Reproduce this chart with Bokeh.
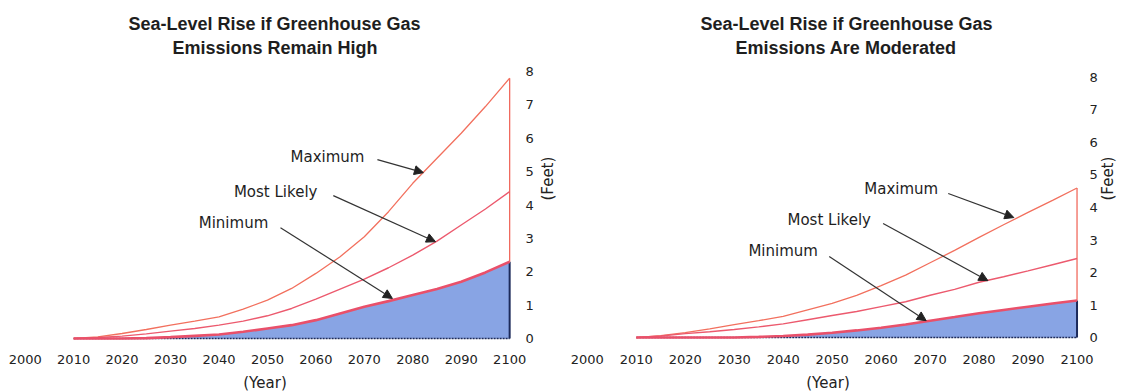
import math
from bokeh.plotting import figure
from bokeh.layouts import row
from bokeh.models import Label, Arrow, NormalHead, FixedTicker, Range1d, Title
from bokeh.embed import file_html
from bokeh.resources import INLINE

# ---- data (feet of sea-level rise) ----
years = [2010, 2015, 2020, 2025, 2030, 2035, 2040, 2045, 2050, 2055,
         2060, 2065, 2070, 2075, 2080, 2085, 2090, 2095, 2100]
high_max = [0, 0.05, 0.15, 0.27, 0.40, 0.52, 0.65, 0.88, 1.15, 1.50,
            1.95, 2.45, 3.05, 3.80, 4.65, 5.40, 6.15, 6.95, 7.80]
high_likely = [0, 0.03, 0.07, 0.14, 0.22, 0.30, 0.40, 0.52, 0.68, 0.90,
               1.18, 1.48, 1.78, 2.12, 2.50, 2.92, 3.40, 3.88, 4.40]
high_min = [0, 0, 0, 0.01, 0.04, 0.08, 0.12, 0.20, 0.30, 0.40,
            0.55, 0.75, 0.95, 1.12, 1.30, 1.48, 1.70, 1.98, 2.30]
mod_max = [0, 0.06, 0.15, 0.27, 0.40, 0.52, 0.65, 0.85, 1.05, 1.30,
           1.60, 1.92, 2.30, 2.68, 3.08, 3.47, 3.85, 4.22, 4.60]
mod_likely = [0, 0.05, 0.12, 0.18, 0.25, 0.33, 0.42, 0.55, 0.68, 0.80,
              0.95, 1.10, 1.30, 1.48, 1.70, 1.87, 2.05, 2.24, 2.43]
mod_min = [0, 0, 0, 0, 0, 0.02, 0.05, 0.09, 0.15, 0.22,
           0.30, 0.40, 0.52, 0.63, 0.75, 0.85, 0.95, 1.05, 1.14]

x_ticks = list(range(2000, 2101, 10))
y_ticks = list(range(0, 9))
series_names = ["Maximum", "Most Likely", "Minimum"]
titles = [["Sea-Level Rise if Greenhouse Gas", "Emissions Remain High"],
          ["Sea-Level Rise if Greenhouse Gas", "Emissions Are Moderated"]]
x_label = "(Year)"
y_label = "(Feet)"

# annotation placement (data units): label centre, arrow start, arrow end
high_notes = [((2062.4, 5.45), (2072.7, 5.36), (2082.2, 4.97)),
              ((2051.7, 4.40), (2063.6, 4.28), (2084.7, 2.90)),
              ((2043.0, 3.47), (2052.7, 3.32), (2075.8, 1.20))]
mod_notes = [((2064.1, 4.58), (2073.7, 4.43), (2087.1, 3.69)),
             ((2049.4, 3.63), (2060.4, 3.51), (2081.8, 1.75)),
             ((2040.0, 2.65), (2049.4, 2.49), (2069.2, 0.52))]

FONT = "DejaVu Sans"


def style_title(t, toff, standoff):
    t.align = "left"
    t.offset = toff
    t.text_font = "Liberation Sans"
    t.text_font_size = "18px"
    t.text_font_style = "bold"
    t.text_color = "#1e1e1e"
    t.text_line_height = 1.0
    t.standoff = standoff


def panel(title, mx, ml, mn, notes, x_end, y_rng, frame_w, bl, br, toffs,
          tick_so, label_so):
    p = figure(frame_width=frame_w, frame_height=280,
               x_range=Range1d(1998, x_end), y_range=Range1d(*y_rng),
               y_axis_location="right", toolbar_location=None,
               output_backend="svg", min_border_left=bl,
               min_border_right=br, min_border_top=60, min_border_bottom=0)
    # outer line is the figure title; the inner line sits closer to the plot
    p.title.text = title[0]
    style_title(p.title, toffs[0], 0)
    t2 = Title(text=title[1])
    style_title(t2, toffs[1], 5)
    p.add_layout(t2, "above")
    p.outline_line_color = None
    p.xgrid.visible = False
    p.ygrid.visible = False
    p.background_fill_color = "white"

    # fill under minimum
    p.varea(x=years, y1=[0] * len(years), y2=mn, fill_color="#88a4e4",
            fill_alpha=1.0)
    p.line(years, [0] * len(years), line_color="#1c2a5a", line_width=1.5,
           line_dash="2 1")
    p.segment(x0=[years[-1]], y0=[0], x1=[years[-1]], y1=[mn[-1]],
              line_color="#1c2a5a", line_width=2)
    p.segment(x0=[years[-1]], y0=[mn[-1]], x1=[years[-1]], y1=[mx[-1]],
              line_color="#f06a5e", line_width=1.3)
    p.line(years, mx, line_color="#f2705e", line_width=1.3)
    p.line(years, ml, line_color="#ec5a6e", line_width=1.4)
    p.line(years, mn, line_color="#e9506a", line_width=2.6)

    for name, (lab, a0, a1) in zip(series_names, notes):
        p.add_layout(Label(x=lab[0], y=lab[1], text=name,
                           text_align="center", text_baseline="middle",
                           text_font=FONT, text_font_size="15px",
                           text_color="#1e1e1e"))
        p.add_layout(Arrow(x_start=a0[0], y_start=a0[1], x_end=a1[0],
                           y_end=a1[1], line_color="#333333", line_width=1.2,
                           end=NormalHead(size=9, fill_color="#222222",
                                          line_color="#222222")))

    xa = p.xaxis[0]
    xa.ticker = FixedTicker(ticks=x_ticks)
    xa.axis_line_color = None
    xa.major_tick_line_color = None
    xa.minor_tick_line_color = None
    xa.major_label_standoff = 8
    xa.major_label_text_font = FONT
    xa.major_label_text_font_size = "13px"
    xa.major_label_text_color = "#222222"
    xa.axis_label = x_label
    xa.axis_label_text_font = FONT
    xa.axis_label_text_font_size = "15px"
    xa.axis_label_text_font_style = "normal"
    xa.axis_label_text_color = "#222222"
    xa.axis_label_standoff = 7

    ya = p.yaxis[0]
    ya.ticker = FixedTicker(ticks=y_ticks)
    ya.axis_line_color = None
    ya.major_tick_line_color = None
    ya.minor_tick_line_color = None
    ya.major_label_standoff = tick_so
    ya.major_label_text_font = FONT
    ya.major_label_text_font_size = "13px"
    ya.major_label_text_color = "#222222"
    ya.axis_label = y_label
    ya.axis_label_text_font = FONT
    ya.axis_label_text_font_size = "15px"
    ya.axis_label_text_font_style = "normal"
    ya.axis_label_text_color = "#222222"
    ya.axis_label_standoff = label_so
    if "axis_label_orientation" in ya.properties():
        ya.axis_label_orientation = math.pi / 2
    return p


p1 = panel(titles[0], high_max, high_likely, high_min, high_notes,
           2101, (-0.06, 8.33), 499, 15, 45, (113, 157), 5, 11)
p2 = panel(titles[1], mod_max, mod_likely, mod_min, mod_notes,
           2100.3, (-0.09, 8.52), 501, 9, 40, (123, 158), 5, 7)

layout = row(p1, p2, spacing=0)
open("out.html", "w").write(file_html(layout, INLINE))
